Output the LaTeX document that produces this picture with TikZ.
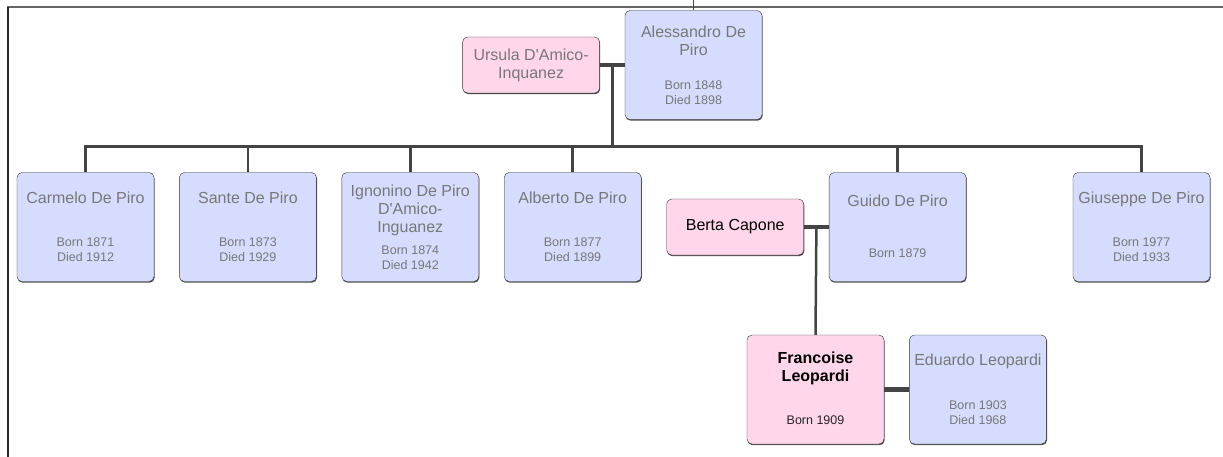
\documentclass[tikz,border=0pt]{standalone}
\usepackage{fontspec}
\setmainfont{Liberation Sans}
\usetikzlibrary{positioning}
\usetikzlibrary{shadows}

\definecolor{boyblue}{RGB}{214,220,253}
\definecolor{girlpink}{RGB}{255,214,234}
\definecolor{softgray}{RGB}{120,120,120}
\definecolor{linegray}{RGB}{68,68,68}

\newcommand{\namefont}{\fontsize{16}{18}\selectfont}
\newcommand{\datefont}{\fontsize{12.5}{15}\selectfont}

\begin{document}
\begin{tikzpicture}[x=1pt, y=-1pt,
                          malenode/.style={rectangle, rounded corners=5pt, draw=black!80, fill=boyblue, minimum width=137pt, minimum height=109pt, drop shadow={shadow xshift=0.6pt, shadow yshift=-1.2pt, opacity=0.7, fill=black}},
                          femalenode/.style={malenode, fill=girlpink},
                          spousenode/.style={femalenode, minimum height=56pt, align=center, font=\namefont, text=softgray},
                          nametext/.style={align=center, inner sep=0pt, text=softgray, font=\namefont},
                          datetext/.style={align=center, inner sep=0pt, text=softgray, font=\datefont},
                          parentline/.style={draw=linegray, line width=2.5pt},
                          coupleline/.style={draw=linegray, line width=4.5pt},
                      ]
                      \useasboundingbox (0,0) rectangle (1223,457);
                      % Frame
                      \draw[black!60, line width=2pt] (7,7.5) -- (1223,7.5);
                      \draw[black!85, line width=2pt] (7.5,7) -- (7.5,457);

                      % Nodes
                      \node[malenode]         (alessandro)    at (693.5,65)                  {};
                      \node[spousenode]       (ursula)        [left=25pt of alessandro]      {Ursula D\textquotesingle Amico-\\Inquanez};

                      \node[malenode]         (carmelo)       at (85.5,227)                  {};
                      \node[malenode]         (sante)         [right=25pt of carmelo]        {};
                      \node[malenode]         (ignonino)      [right=25pt of sante]          {};
                      \node[malenode]         (alberto)       [right=25pt of ignonino]       {};
                      \node[malenode]         (guido)         [right=187.5pt of alberto]     {};
                      \node[malenode]         (giuseppe)      [right=106.5pt of guido]       {};
                      \node[spousenode]       (berta)         [left=25pt of guido, text=black] {Berta Capone};

                      \node[femalenode]       (francoise)     at (815.5,389.5)               {};
                      \node[malenode]         (eduardo)       [right=25pt of francoise]      {};

                      % Texts
                      \node[nametext]   (alessandro_name)  [below=15pt of alessandro.north]  {Alessandro De\\Piro};
                      \node[datetext]   (alessandro_dates) [above=14.5pt of alessandro.south] {Born 1848\\Died 1898};
                      \node[nametext]   (carmelo_name)     [below=19pt of carmelo.north]     {Carmelo De Piro};
                      \node[datetext]   (carmelo_dates)    [above=20pt of carmelo.south]     {Born 1871\\Died 1912};
                      \node[nametext]   (sante_name)       [below=19pt of sante.north]       {Sante De Piro};
                      \node[datetext]   (sante_dates)      [above=20pt of sante.south]       {Born 1873\\Died 1929};
                      \node[nametext]   (ignonino_name)    [below=12pt of ignonino.north]    {Ignonino De Piro\\D\textquotesingle Amico-\\Inguanez};
                      \node[datetext]   (ignonino_dates)   [above=11.5pt of ignonino.south]  {Born 1874\\Died 1942};
                      \node[nametext]   (alberto_name)     [below=19pt of alberto.north]     {Alberto De Piro};
                      \node[datetext]   (alberto_dates)    [above=19.5pt of alberto.south]   {Born 1877\\Died 1899};
                      \node[nametext]   (guido_name)       [below=22pt of guido.north]       {Guido De Piro};
                      \node[datetext]   (guido_dates)      [above=23.5pt of guido.south]     {Born 1879};
                      \node[nametext]   (giuseppe_name)    [below=19pt of giuseppe.north]    {Giuseppe De Piro};
                      \node[datetext]   (giuseppe_dates)   [above=19.5pt of giuseppe.south]  {Born 1977\\Died 1933};
                      \node[nametext, text=black, font=\namefont\bfseries] (francoise_name) [below=17pt of francoise.north] {Francoise\\Leopardi};
                      \node[datetext, text=black!85] (francoise_dates) [above=19.5pt of francoise.south] {Born 1909};
                      \node[nametext]   (eduardo_name)     [below=19pt of eduardo.north]     {Eduardo Leopardi};
                      \node[datetext]   (eduardo_dates)    [above=19.5pt of eduardo.south]   {Born 1903\\Died 1968};

                      % Lines
                      \coordinate (root) at (693.5,0);
                      \path (ursula) -- (alessandro) coordinate[midway] (ursula_alessandro);
                      \path (berta) -- (guido) coordinate[midway] (berta_guido);

                      \draw[linegray, line width=1.5pt] (root) -- (alessandro.north);
                      \draw[coupleline] (ursula) -- (alessandro);
                      \draw[parentline] (ursula_alessandro) |- ([yshift=26pt]carmelo.north) -- (carmelo.north);
                      \draw[parentline] (ursula_alessandro) |- ([yshift=26pt]sante.north) -- (sante.north);
                      \draw[parentline] (ursula_alessandro) |- ([yshift=26pt]ignonino.north) -- (ignonino.north);
                      \draw[parentline] (ursula_alessandro) |- ([yshift=26pt]alberto.north) -- (alberto.north);
                      \draw[parentline] (ursula_alessandro) |- ([yshift=26pt]guido.north) -- (guido.north);
                      \draw[parentline] (ursula_alessandro) |- ([yshift=26pt]giuseppe.north) -- (giuseppe.north);
                      \draw[coupleline] (berta) -- (guido);
                      \draw[parentline] (berta_guido) -- (francoise.north);
                      \draw[coupleline] (francoise) -- (eduardo);
                  \end{tikzpicture}
\end{document}
